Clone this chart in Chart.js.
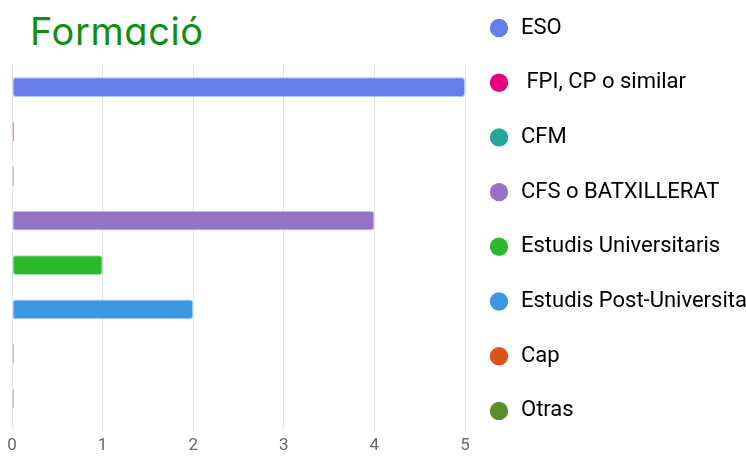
<!DOCTYPE html>
<html>
<head>
<meta charset="utf-8">
<script src="https://cdn.jsdelivr.net/npm/chart.js@4.4.1/dist/chart.umd.min.js"></script>
<style>
  body { margin: 0; width: 746px; height: 459px; overflow: hidden; background: #fff; position: relative; }
  #title {
    position: absolute; left: 30px; top: 12px; margin: 0;
    font-family: Inter, sans-serif; font-weight: 400; font-size: 38px; line-height: 38px;
    font-feature-settings: "cv11"; letter-spacing: 0.6px;
    color: #0f8f0f;
  }
  #chartBox { position: absolute; left: 0; top: -6px; }
</style>
</head>
<body>
<div id="title">Formació</div>
<div id="chartBox"><canvas id="formacioChart" width="746" height="467"></canvas></div>
<script>
let categories = ["ESO", " FPI, CP o similar", "CFM", "CFS o BATXILLERAT", "Estudis Universitaris", "Estudis Post-Universitaris", "Cap", "Otras"];
let counts = [5, 0, 0, 4, 1, 2, 0, 0];
let barColors = ["#667eea", "#e6007e", "#26a69a", "#9473c4", "#2cba2c", "#3a97e0", "#d9541c", "#5a8c2a"];
let tickMax = 5;

function fade(hex, alpha) {
    let r = parseInt(hex.slice(1, 3), 16);
    let g = parseInt(hex.slice(3, 5), 16);
    let b = parseInt(hex.slice(5, 7), 16);
    return `rgba(${r}, ${g}, ${b}, ${alpha})`;
}

Chart.defaults.font.family = "Roboto";

let ctx = document.getElementById("formacioChart").getContext("2d");
let chartInstance = new Chart(ctx, {
    type: "bar",
    data: {
        labels: categories,
        datasets: [{
            label: "Formació",
            data: counts,
            backgroundColor: barColors,
            borderColor: barColors.map(c => fade(c, 0.45)),
            borderWidth: 1,
            borderRadius: 3,
            borderSkipped: false,
            minBarLength: 2,
            barPercentage: 0.555,
            categoryPercentage: 0.8
        }]
    },
    options: {
        indexAxis: "y",
        responsive: false,
        animation: false,
        layout: { padding: { left: 12 } },
        plugins: {
            title: {
                // keeps room above the bars, the visible title is the green text
                display: true,
                text: "",
                fullSize: false,
                padding: 0,
                font: { size: 71, lineHeight: 1 }
            },
            tooltip: { enabled: false },
            legend: {
                position: "right",
                align: "start",
                maxWidth: 281,
                labels: {
                    usePointStyle: true,
                    boxWidth: 22,
                    boxHeight: 13,
                    padding: 23,
                    color: "#555",
                    font: { size: 22, lineHeight: 1.441 },
                    generateLabels: function(chart) {
                        return chart.data.labels.map((label, i) => ({
                            text: [label],
                            fillStyle: barColors[i],
                            strokeStyle: barColors[i],
                            lineWidth: 0,
                            pointStyle: "circle",
                            hidden: false,
                            index: i
                        }));
                    }
                }
            }
        },
        scales: {
            x: {
                min: 0,
                max: tickMax,
                ticks: { stepSize: 1, color: "#666", padding: 5, font: { size: 17 } },
                grid: { color: "rgba(0, 0, 0, 0.1)", tickLength: 10 },
                border: { display: false }
            },
            y: {
                display: false
            }
        }
    }
});
</script>
</body>
</html>
